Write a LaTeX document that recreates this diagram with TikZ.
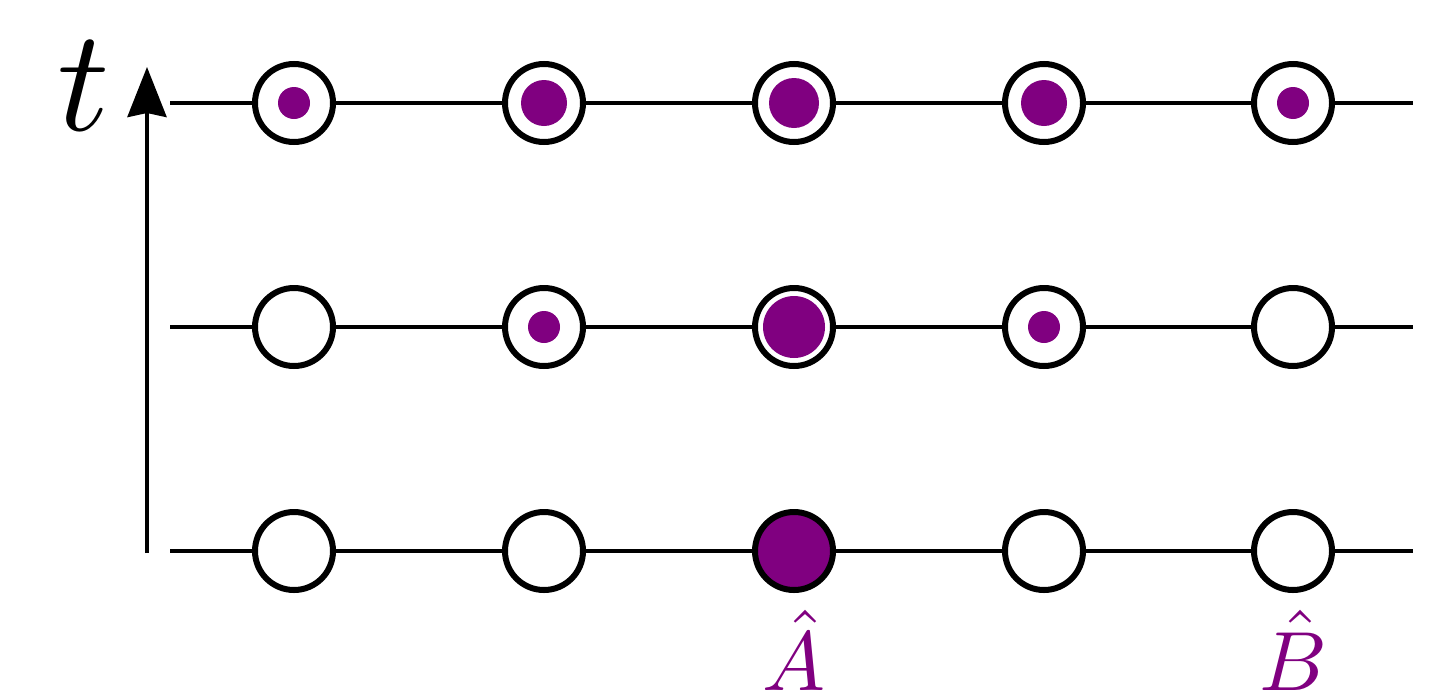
\documentclass[tikz,border=0pt]{standalone}
\usetikzlibrary{arrows.meta}
\definecolor{qpurple}{RGB}{128,0,128}
\begin{document}
\begin{tikzpicture}[x=0.5pt,y=-0.5pt,
  site/.style={circle,draw=black,line width=3pt,fill=white,minimum size=39pt,inner sep=0pt},
  fullsite/.style={site,fill=qpurple},
  qdot/.style={circle,fill=qpurple,draw=none,inner sep=0pt,minimum size=#1},
  wire/.style={line width=2pt},
  lbl/.style={anchor=base,text=qpurple,scale=4.2,inner sep=0pt},
]
\useasboundingbox (0,0) rectangle (1455,691);

% row coordinates (line ends)
\coordinate (L1) at (170,103); \coordinate (R1) at (1413,103);
\coordinate (L2) at (170,327); \coordinate (R2) at (1413,327);
\coordinate (L3) at (170,551); \coordinate (R3) at (1413,551);

% top row
\node[site] (a1) at (294,103) {};
\node[site] (b1) at (544,103) {};
\node[site] (c1) at (794,103) {};
\node[site] (d1) at (1044,103) {};
\node[site] (e1) at (1293,103) {};
% middle row
\node[site] (a2) at (294,327) {};
\node[site] (b2) at (544,327) {};
\node[site] (c2) at (794,327) {};
\node[site] (d2) at (1044,327) {};
\node[site] (e2) at (1293,327) {};
% bottom row
\node[site] (a3) at (294,551) {};
\node[site] (b3) at (544,551) {};
\node[fullsite] (c3) at (794,551) {};
\node[site] (d3) at (1044,551) {};
\node[site] (e3) at (1293,551) {};

% wires
\draw[wire] (L1) -- (a1) -- (b1) -- (c1) -- (d1) -- (e1) -- (R1);
\draw[wire] (L2) -- (a2) -- (b2) -- (c2) -- (d2) -- (e2) -- (R2);
\draw[wire] (L3) -- (a3) -- (b3) -- (c3) -- (d3) -- (e3) -- (R3);

% occupation dots
\node[qdot=16pt] (pa1) at (a1) {};
\node[qdot=23pt] (pb1) at (b1) {};
\node[qdot=25pt] (pc1) at (c1) {};
\node[qdot=23pt] (pd1) at (d1) {};
\node[qdot=16pt] (pe1) at (e1) {};
\node[qdot=16pt] (pb2) at (b2) {};
\node[qdot=31pt] (pc2) at (c2) {};
\node[qdot=16pt] (pd2) at (d2) {};

% time axis
\coordinate (ax0) at (147,553);
\coordinate (ax1) at (147,67);
\draw[wire,-{Stealth[length=25pt,width=19.5pt,inset=2pt]}] (ax0) -- (ax1);
\node[anchor=base,scale=7.25,inner sep=0pt] (lt) at (84,130) {$t$};

% labels
\node[lbl] (lA) at (794,690) {$\hat A$};
\node[lbl] (lB) at (1293,690) {$\hat B$};
\end{tikzpicture}
\end{document}
